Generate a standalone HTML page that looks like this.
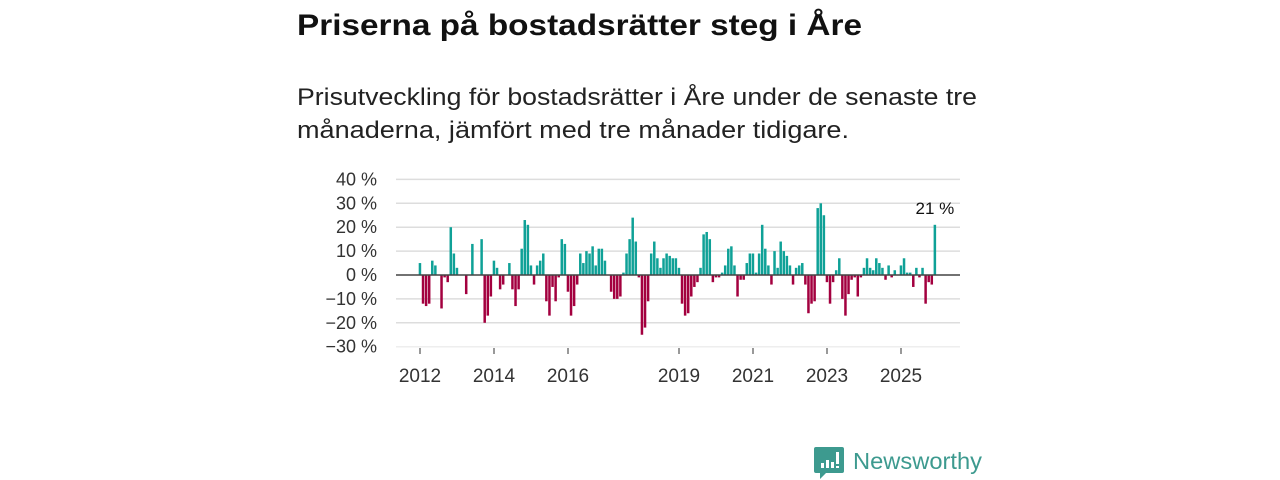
<!DOCTYPE html>
<html><head><meta charset="utf-8"><style>
html,body{margin:0;padding:0;background:#fff;}
svg{display:block;font-family:"Liberation Sans",sans-serif;}
</style></head><body>
<svg width="1280" height="480" viewBox="0 0 1280 480">
<text x="297" y="35" font-size="30" font-weight="bold" fill="#111" textLength="565" lengthAdjust="spacingAndGlyphs">Priserna på bostadsrätter steg i Åre</text>
<text x="297" y="105" font-size="24" fill="#222" textLength="680" lengthAdjust="spacingAndGlyphs">Prisutveckling för bostadsrätter i Åre under de senaste tre</text>
<text x="297" y="138" font-size="24" fill="#222" textLength="552" lengthAdjust="spacingAndGlyphs">månaderna, jämfört med tre månader tidigare.</text>
<g id="grid"></g>
<g id="bars"></g>
<g id="axes"></g>
<g>
<path d="M816 447 h26 a2 2 0 0 1 2 2 v22 a2 2 0 0 1 -2 2 h-16 l-6 6 v-6 h-4 a2 2 0 0 1 -2 -2 v-22 a2 2 0 0 1 2 -2z" fill="#3d9a8f"/>
<rect x="821" y="463" width="3" height="5" fill="#fff"/><rect x="826" y="460" width="3" height="8" fill="#fff"/><rect x="831" y="462" width="3" height="6" fill="#fff"/><rect x="836" y="452" width="3" height="12" fill="#fff"/><rect x="836" y="466" width="3" height="2" fill="#fff"/>
<text x="853" y="469" font-size="23" fill="#3d9a8f" textLength="129" lengthAdjust="spacingAndGlyphs">Newsworthy</text>
</g>
</svg>
<script>
const values = [5,-12,-13,-12,6,4,0,-14,-1,-3,20,9,3,0,0,-8,0,13,0,0,15,-20,-17,-9,6,3,-6,-4,0,5,-6,-13,-6,11,23,21,4,-4,4,6,9,-11,-17,-5,-11,-1,15,13,-7,-17,-13,-4,9,5,10,9,12,4,11,11,6,0,-7,-10,-10,-9,1,9,15,24,14,-1,-25,-22,-11,9,14,7,3,7,9,8,7,7,3,-12,-17,-16,-9,-5,-3,3,17,18,15,-3,-1,-1,1,4,11,12,4,-9,-2,-2,5,9,9,1,9,21,11,4,-4,10,3,14,10,8,4,-4,3,4,5,-4,-16,-12,-11,28,30,25,-3,-12,-3,2,7,-10,-17,-8,-2,-1,-9,-1,3,7,3,2,7,5,3,-2,4,-1,2,0,4,7,1,1,-5,3,-1,3,-12,-3,-4,21];
const yTicks = [40,30,20,10,0,-10,-20,-30];
const xTickYears = [2012,2014,2016,2019,2021,2023,2025];
const startYear = 2012;
const NS='http://www.w3.org/2000/svg';
const y = v => 275 - v*2.39;
const xYear = yr => 420 + (yr-startYear)*37;
const xMonth = i => 420 + i*37/12;
const grid=document.getElementById('grid'), bars=document.getElementById('bars'), axes=document.getElementById('axes');
function mk(tag,attrs,parent){const e=document.createElementNS(NS,tag);for(const k in attrs)e.setAttribute(k,attrs[k]);parent.appendChild(e);return e;}
yTicks.forEach(t=>{
  if(t!==0){const l=mk('line',{x1:396,x2:960,y1:y(t),y2:y(t),stroke:t===-30?'#eee':'#ddd','stroke-width':1.5},grid);
  
  }
  const tx=mk('text',{x:377,y:y(t)+6,'text-anchor':'end','font-size':18,fill:'#333'},axes);
  tx.textContent=(t<0?'\u2212'+(-t):t)+' %';
  
  
});
values.forEach((v,i)=>{
  const x=xMonth(i)-1.3;
  const r=mk('rect',{x:x,width:2.5,y:v>=0?y(v):y(0),height:Math.abs(y(v)-y(0)),fill:v>=0?'#0fa197':'#a3003f'},bars);
  
  
});
const z=mk('line',{x1:396,x2:960,y1:y(0),y2:y(0),stroke:'#444','stroke-width':1.5},axes);


xTickYears.forEach(yr=>{
  const tk=mk('line',{x1:xYear(yr),x2:xYear(yr),y1:348,y2:354,stroke:'#333','stroke-width':1},axes);
  
  
  const tx=mk('text',{x:xYear(yr),y:382,'text-anchor':'middle','font-size':19,fill:'#333'},axes);
  tx.textContent=yr;
  
  
});
const last=values.length-1;
const lab=mk('text',{x:xMonth(last),y:y(values[last])-11,'text-anchor':'middle','font-size':17,fill:'#111'},axes);
lab.textContent=values[last]+' %';


</script>
</body></html>
